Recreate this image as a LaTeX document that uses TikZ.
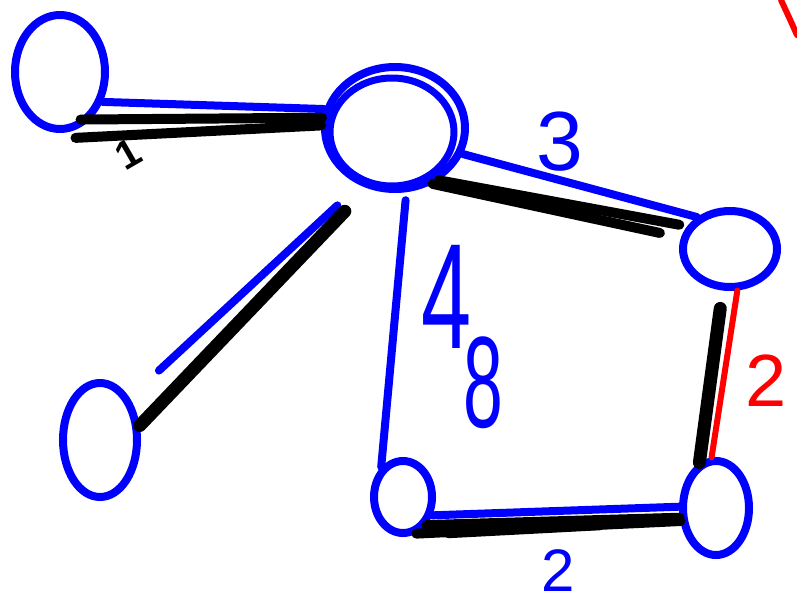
\documentclass[tikz,border=0pt]{standalone}
\usepackage{fontspec}
\setmainfont{Liberation Sans}
\usetikzlibrary{shapes,arrows,positioning,calc}

\begin{document}
\begin{tikzpicture}[x=1pt,y=1pt,
    ring/.style={draw=blue, line width=8pt, ellipse, inner sep=0pt},
    blueedge/.style={blue, line width=8pt, line cap=round},
    blackedge/.style={black, line width=10pt, line cap=round},
    rededge/.style={red, line width=6pt, line cap=round},
    weight/.style={inner sep=0pt}]
    \useasboundingbox (0,0) rectangle (797,-605);
    % vertices
    \node[ring, minimum width=90pt, minimum height=114pt] (topleft) at (60,-72) {};
    \node[ring, minimum width=140pt, minimum height=122pt] (hub) at (395,-128) {};
    \draw[blue, line width=7pt] (392,-132) ellipse (62pt and 54pt);
    \node[ring, minimum width=94pt, minimum height=76pt] (right) at (730,-249) {};
    \node[ring, minimum width=74pt, minimum height=114pt] (lowleft) at (100,-440) {};
    \node[ring, minimum width=58pt, minimum height=72pt] (lowmid) at (403,-497) {};
    \node[ring, minimum width=66pt, minimum height=94pt] (lowright) at (716,-508) {};
    % top left to hub
    \draw[blueedge] (topleft.-35) -- (hub.165);
    \draw[blackedge] ([shift={(-8,2)}]topleft.-60) -- (hub.172);
    \draw[blackedge] ([yshift=-8pt]topleft.-75) -- (hub.178);
    \node[weight, rotate=30] (wone) at (128,-154) {\fontsize{40}{40}\selectfont\bfseries 1};
    % hub to right
    \draw[blueedge] (hub.-21) -- (right.136);
    \draw[blackedge, shorten >=8pt] (hub.-50) -- (right.152);
    \draw[blackedge, shorten >=24pt] (hub.-56) -- ([yshift=-6pt]right.160);
    \node[weight, blue] (wthree) at (560,-142) {\fontsize{84}{84}\selectfont 3};
    % hub to low left
    \draw[blueedge, shorten <=30pt, shorten >=40pt] (hub.-122) -- (lowleft.55);
    \draw[blackedge, line width=13pt, shorten <=32pt] (hub.-115) -- (lowleft.20);
    % hub to low middle
    \draw[blueedge, shorten <=8pt] (hub.-80) -- (lowmid.126);
    \node[weight, blue, xscale=0.6] (wfour) at (447,-297) {\fontsize{150}{150}\selectfont 4};
    \node[weight, blue, xscale=0.55] (weight) at (483,-383) {\fontsize{130}{130}\selectfont 8};
    % right to low right
    \draw[blackedge, line width=13pt, shorten <=18pt] (right.-100) -- (lowright.110);
    \draw[rededge] (right.-80) -- (lowright.95);
    \node[weight, red] (wtwored) at (766,-381) {\fontsize{74}{74}\selectfont 2};
    % low middle to low right
    \draw[blueedge] (lowmid.-32) -- (lowright.178);
    \draw[blackedge] (lowmid.-50) -- (lowright.195);
    \draw[blackedge] (lowmid.-70) -- (lowright.200);
    \draw[blackedge, shorten <=35pt, shorten >=80pt] (lowmid.-75) -- (lowright.200);
    \node[weight, blue] (wtwo) at (558,-571) {\fontsize{60}{60}\selectfont 2};
    % red stroke at the edge
    \draw[red, line width=6pt, line cap=round] (781,0) .. controls (788,-15) .. (797,-35);
\end{tikzpicture}
\end{document}
